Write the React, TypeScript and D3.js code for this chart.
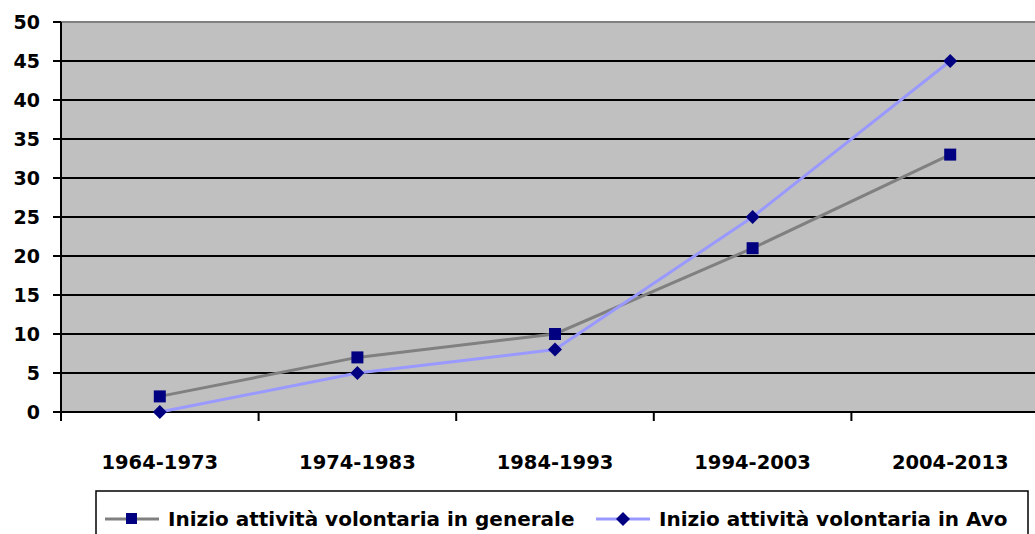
import React, { useEffect, useRef } from "react";
import * as d3 from "d3";

const categories = ["1964-1973", "1974-1983", "1984-1993", "1994-2003", "2004-2013"];
const generale = [2, 7, 10, 21, 33];
const avo = [0, 5, 8, 25, 45];
const yTicks = [0, 5, 10, 15, 20, 25, 30, 35, 40, 45, 50];
const seriesNames = ["Inizio attività volontaria in generale", "Inizio attività volontaria in Avo"];

const FONT = "'DejaVu Sans', 'Liberation Sans', sans-serif";

export default function App() {
  const ref = useRef<SVGSVGElement>(null);

  useEffect(() => {
    const svg = d3.select(ref.current);
    svg.selectAll("*").remove();

    const left = 61, top = 22, bottom = 412, right = 1049;

    const x = d3.scaleBand().domain(categories).range([left, right]);
    const y = d3.scaleLinear().domain([0, 50]).range([bottom, top]);

    // plot background
    svg.append("rect")
      .attr("x", left).attr("y", top)
      .attr("width", right - left).attr("height", bottom - top)
      .attr("fill", "#C0C0C0");

    // gridlines
    svg.selectAll(".grid")
      .data(yTicks.filter(t => t > 0))
      .join("line")
      .attr("x1", left).attr("x2", right)
      .attr("y1", d => y(d)).attr("y2", d => y(d))
      .attr("stroke", d => (d === 50 ? "#808080" : "#000"))
      .attr("stroke-width", 2);

    // y axis
    svg.append("line")
      .attr("x1", left).attr("x2", left).attr("y1", top).attr("y2", bottom + 1)
      .attr("stroke", "#000").attr("stroke-width", 2);
    svg.selectAll(".ytick")
      .data(yTicks)
      .join("line")
      .attr("x1", left - 8).attr("x2", left)
      .attr("y1", d => y(d)).attr("y2", d => y(d))
      .attr("stroke", "#000").attr("stroke-width", 2);
    svg.selectAll(".ylab")
      .data(yTicks)
      .join("text")
      .attr("x", 40).attr("y", d => y(d))
      .attr("dy", "0.36em")
      .attr("text-anchor", "end")
      .style("font-family", FONT).style("font-weight", "bold").style("font-size", "19px")
      .text(d => d);

    // x axis
    svg.append("line")
      .attr("x1", left).attr("x2", right).attr("y1", bottom).attr("y2", bottom)
      .attr("stroke", "#000").attr("stroke-width", 2);
    svg.selectAll(".xtick")
      .data(categories)
      .join("line")
      .attr("x1", d => x(d)!).attr("x2", d => x(d)!)
      .attr("y1", bottom).attr("y2", bottom + 9)
      .attr("stroke", "#000").attr("stroke-width", 2);
    svg.selectAll(".xlab")
      .data(categories)
      .join("text")
      .attr("x", d => x(d)! + x.bandwidth() / 2).attr("y", 469)
      .attr("text-anchor", "middle")
      .style("font-family", FONT).style("font-weight", "bold").style("font-size", "19.5px")
      .text(d => d);

    const cx = (i: number) => x(categories[i])! + x.bandwidth() / 2;
    const line = d3.line<number>().x((_, i) => cx(i)).y(d => y(d));

    svg.append("path").datum(generale).attr("d", line)
      .attr("fill", "none").attr("stroke", "#808080").attr("stroke-width", 3);
    svg.append("path").datum(avo).attr("d", line)
      .attr("fill", "none").attr("stroke", "#9999FF").attr("stroke-width", 3);

    svg.selectAll(".sq")
      .data(generale)
      .join("rect")
      .attr("x", (_, i) => cx(i) - 6).attr("y", d => y(d) - 6)
      .attr("width", 12).attr("height", 12)
      .attr("fill", "#000080");

    const diamond = (px: number, py: number, r: number) =>
      `M${px},${py - r}L${px + r},${py}L${px},${py + r}L${px - r},${py}Z`;
    svg.selectAll(".dm")
      .data(avo)
      .join("path")
      .attr("d", (d, i) => diamond(cx(i), y(d), 7))
      .attr("fill", "#000080");

    // legend
    svg.append("rect")
      .attr("x", 96).attr("y", 491).attr("width", 932).attr("height", 50)
      .attr("fill", "#fff").attr("stroke", "#000").attr("stroke-width", 1.5);

    const legX = [105, 596];
    const legY = 519;
    legX.forEach((lx, i) => {
      svg.append("line")
        .attr("x1", lx).attr("x2", lx + 54).attr("y1", legY).attr("y2", legY)
        .attr("stroke", i === 0 ? "#808080" : "#9999FF").attr("stroke-width", 3);
      if (i === 0) {
        svg.append("rect").attr("x", lx + 21).attr("y", legY - 6)
          .attr("width", 11).attr("height", 11).attr("fill", "#000080");
      } else {
        svg.append("path").attr("d", diamond(lx + 27, legY, 7)).attr("fill", "#000080");
      }
      svg.append("text")
        .attr("x", lx + 63).attr("y", legY).attr("dy", "0.36em")
        .style("font-family", FONT).style("font-weight", "bold").style("font-size", "20px")
        .text(seriesNames[i]);
    });
  }, []);

  return (
    <svg ref={ref} width={1035} height={534}
      style={{ position: "absolute", left: 0, top: 0, background: "#fff" }} />
  );
}
